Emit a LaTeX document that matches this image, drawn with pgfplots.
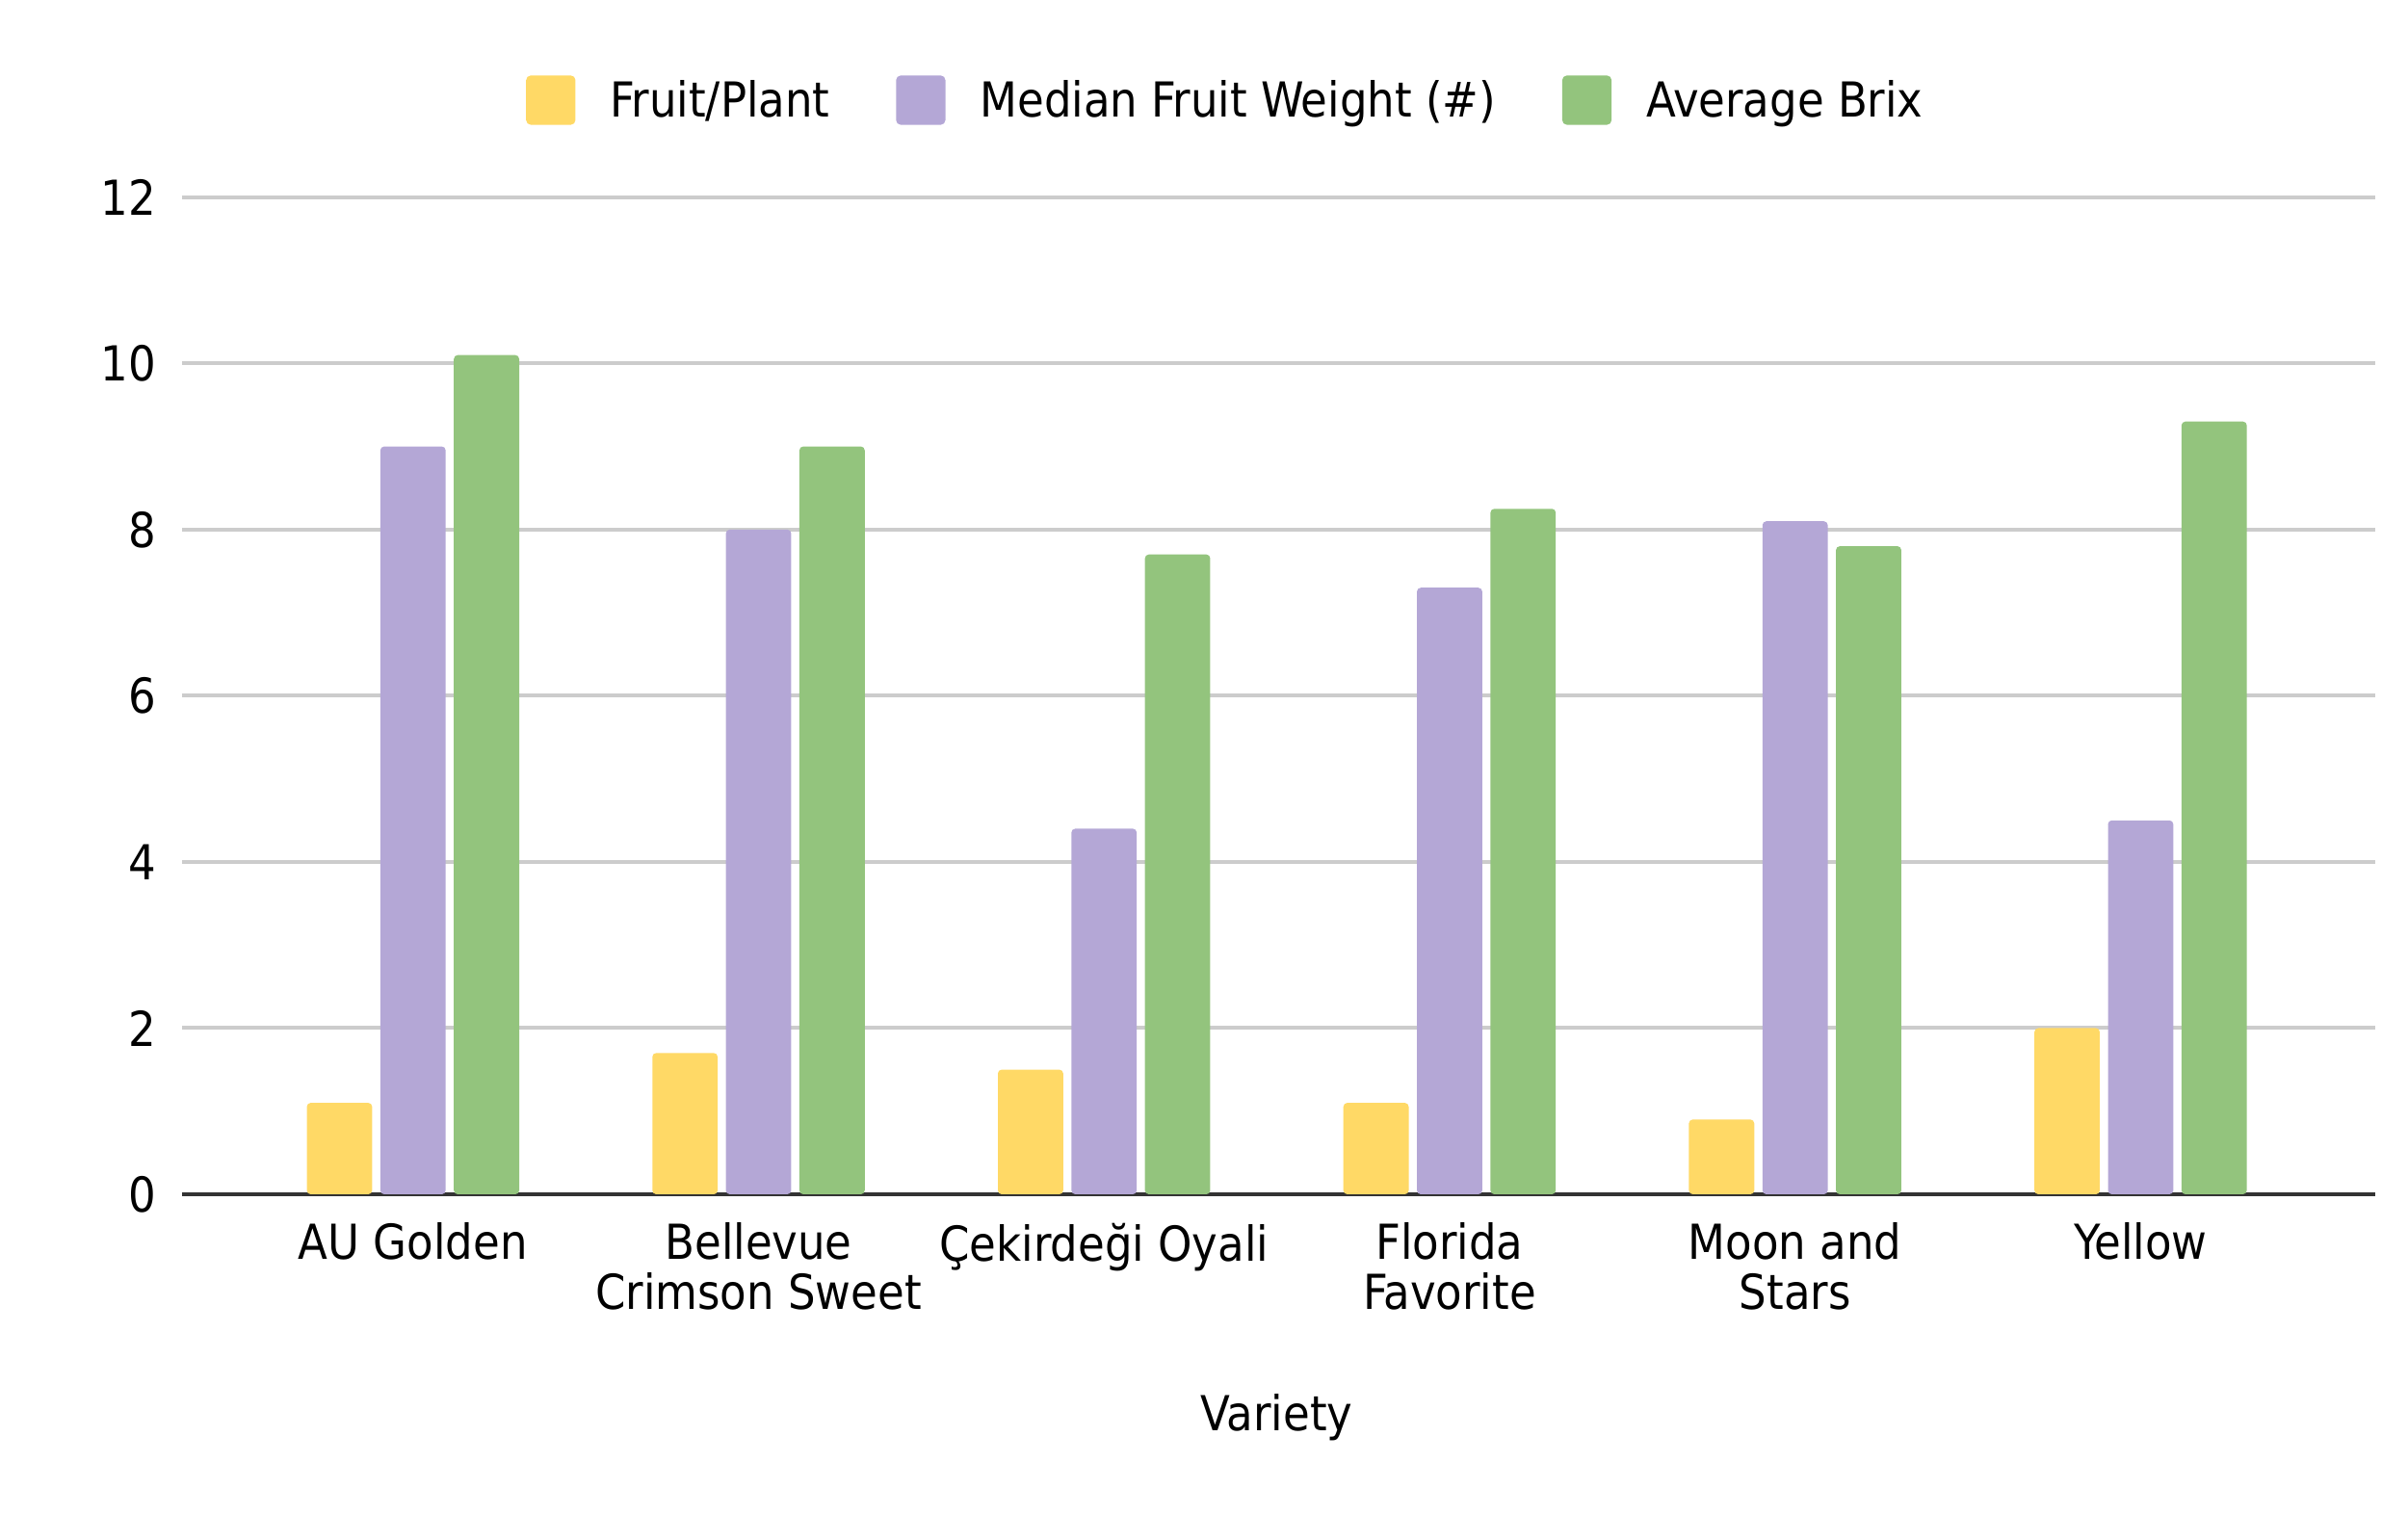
\documentclass[border=0pt]{standalone}
\usepackage{fontspec}
\setmainfont{DejaVu Sans Condensed}
\usepackage{pgfplots}
\pgfplotsset{compat=1.18}
\definecolor{cYel}{HTML}{FFD966}
\definecolor{cPur}{HTML}{B4A7D6}
\definecolor{cGrn}{HTML}{93C47D}
\newcommand{\lf}{\fontsize{8.9}{9.1}\selectfont}
\begin{document}
\begin{tikzpicture}
\path[use as bounding box] (0,0) rectangle (156.25mm,98.31mm);
\begin{axis}[
  at={(11.8mm,20.81mm)}, anchor=south west,
  scale only axis, width=142.3mm, height=64.7mm,
  ybar, bar width=0.189,
  xmin=-0.669, xmax=5.678, ymin=0, ymax=12,
  xtick={0,...,5},
  xticklabels={AU Golden,{Bellevue\\Crimson Sweet},Çekirdeği Oyali,{Florida\\Favorite},{Moon and\\Stars},Yellow},
  ytick={0,2,...,12},
  major tick length=0pt,
  ymajorgrids, grid style={line width=0.7pt, draw=black!20},
  axis x line*=bottom, axis y line*=left,
  y axis line style={draw=none},
  x axis line style={draw=black!80, line width=0.8pt},
  /pgf/number format/assume math mode=true,
  tick label style={font=\lf, text=black},
  xticklabel style={align=center, anchor=north, inner sep=0pt, yshift=-1.8mm},
  yticklabel style={anchor=east, inner sep=0pt, xshift=-1.6mm},
  xlabel={Variety},
  xlabel style={at={(axis description cs:0.4993,-0.224)}, anchor=center, font=\lf},
  legend columns=-1,
  legend image code/.code={\fill[#1, rounded corners=0.3mm] (0mm,-1.4mm) rectangle (3.2mm,1.8mm);},
  legend style={draw=none, fill=none, at={(0.4755,1.0946)}, anchor=center,
    font=\lf, inner sep=0pt,
    nodes={inner sep=0pt, text height=0.76em, text depth=0.24em},
    /tikz/every odd column/.append style={column sep=2.25mm},
    /tikz/every even column/.append style={column sep=4.3mm}},
]
\addplot[fill=cYel, draw=none, rounded corners=0.25mm, bar shift=-0.2128] coordinates {(0,1.1) (1,1.7) (2,1.5) (3,1.1) (4,0.9) (5,2.0)};
\addplot[fill=cPur, draw=none, rounded corners=0.25mm, bar shift=0] coordinates {(0,9.0) (1,8.0) (2,4.4) (3,7.3) (4,8.1) (5,4.5)};
\addplot[fill=cGrn, draw=none, rounded corners=0.25mm, bar shift=0.2128] coordinates {(0,10.1) (1,9.0) (2,7.7) (3,8.25) (4,7.8) (5,9.3)};
\legend{Fruit/Plant, Median Fruit Weight (\#), Average Brix}
\end{axis}
\end{tikzpicture}
\end{document}
